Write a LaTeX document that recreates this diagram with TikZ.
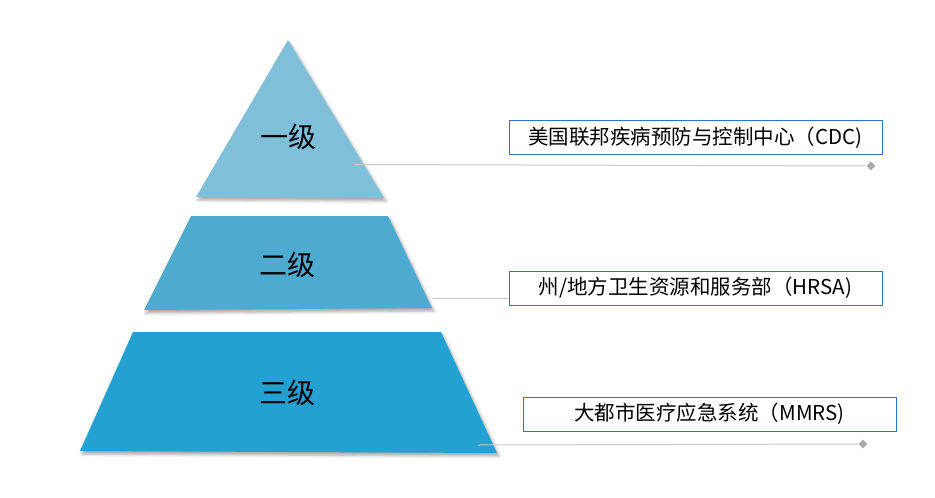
\documentclass[tikz,border=0pt]{standalone}
\usepackage{fontspec}
\usepackage{tikz}
\usetikzlibrary{shapes.geometric, shadows.blur}
\newfontfamily\cjk{Noto Sans CJK SC}
\definecolor{tierA}{HTML}{80BFDA}
\definecolor{tierB}{HTML}{4DABD2}
\definecolor{tierC}{HTML}{23A1D2}
\definecolor{boxline}{HTML}{2F74C2}
\definecolor{leader}{HTML}{C8C8C8}

\begin{document}
\begin{tikzpicture}[x=1pt, y=-1pt,
	tier/.style={blur shadow={shadow xshift=2pt, shadow yshift=-3pt, shadow blur radius=3pt, shadow opacity=35}},
	tierlabel/.style={font=\cjk\fontsize{28}{32}\selectfont, inner sep=0pt},
	orgbox/.style={draw=boxline, line width=0.9pt, fill=white, minimum width=373pt, minimum height=34pt, inner sep=0pt, font=\cjk\fontsize{20.5}{24}\selectfont},
	leaderline/.style={draw=leader, line width=1pt},
	tip/.style={diamond, fill=leader!85!black, inner sep=0pt, minimum size=9pt}]
	\useasboundingbox (0,0) rectangle (935,498);

	% pyramid
	\fill[tierA, tier] (288,40) -- (384,198) -- (196,197) -- cycle;
	\fill[tierB, tier] (191,216) -- (388,216) -- (432,308) -- (144,310) -- cycle;
	\fill[tierC, tier] (133,332) -- (441,332) -- (497,453) -- (80,451) -- cycle;

	\node[tierlabel] (t1) at (288,137) {一级};
	\node[tierlabel] (t2) at (287,265) {二级};
	\node[tierlabel] (t3) at (287,393) {三级};

	% leader lines
	\coordinate (l1) at (354,164.5);
	\coordinate (l2) at (432,298);
	\coordinate (l3) at (478,445);
	\node[tip] (d1) at (871,166) {};
	\node[tip] (d3) at (863,444) {};

	\node[orgbox] (b1) at (695.5,137.5) {美国联邦疾病预防与控制中心（CDC)};
	\node[orgbox] (b2) at (695.5,288) {州/地方卫生资源和服务部（HRSA)};
	\node[orgbox] (b3) at (709.5,414) {大都市医疗应急系统（MMRS)};

	\draw[leaderline] (l1) -- (d1);
	\draw[leaderline] (l2) -- (l2 -| b2.west);
	\draw[leaderline] (l3) -- (d3);
\end{tikzpicture}
\end{document}
